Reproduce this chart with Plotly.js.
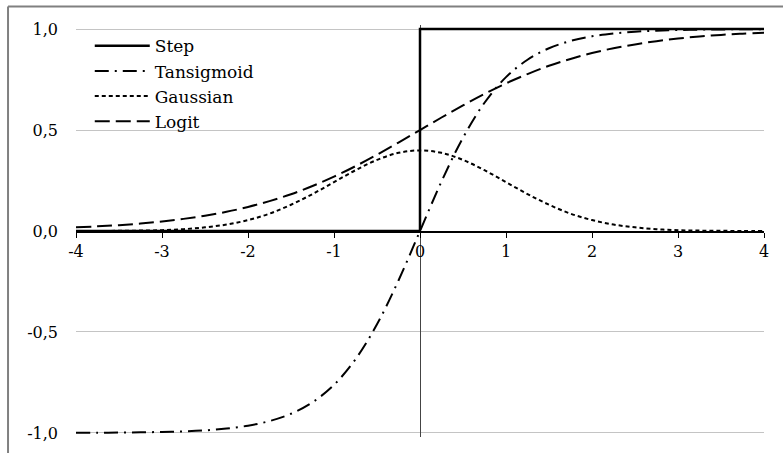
<!DOCTYPE html>
<html>
<head>
<meta charset="utf-8">
<script src="https://cdn.plot.ly/plotly-3.0.1.min.js"></script>
<style>html,body{margin:0;padding:0;background:#fff;}#chart{width:783px;height:453px;}</style>
</head>
<body>
<div id="chart"></div>
<script>
// x grid shared by the smooth curves
const xs = [-4,-3.75,-3.5,-3.25,-3,-2.75,-2.5,-2.25,-2,-1.75,-1.5,-1.25,-1,-0.75,-0.5,-0.25,0,
            0.25,0.5,0.75,1,1.25,1.5,1.75,2,2.25,2.5,2.75,3,3.25,3.5,3.75,4];

// Step function
const stepX = [-4, 0, 0, 4];
const stepY = [0, 0, 1, 1];

// Tansigmoid values
const tansig = [-0.999,-0.999,-0.998,-0.997,-0.995,-0.992,-0.987,-0.978,-0.964,-0.941,-0.905,-0.848,-0.762,-0.635,-0.462,-0.245,0,
                0.245,0.462,0.635,0.762,0.848,0.905,0.941,0.964,0.978,0.987,0.992,0.995,0.997,0.998,0.999,0.999];

// Gaussian values
const gauss = [0.000,0.000,0.001,0.002,0.004,0.009,0.018,0.032,0.054,0.086,0.130,0.183,0.242,0.301,0.352,0.387,0.399,
               0.387,0.352,0.301,0.242,0.183,0.130,0.086,0.054,0.032,0.018,0.009,0.004,0.002,0.001,0.000,0.000];

// Logit values
const logit = [0.018,0.023,0.029,0.037,0.047,0.060,0.076,0.095,0.119,0.148,0.182,0.223,0.269,0.321,0.378,0.438,0.500,
               0.562,0.622,0.679,0.731,0.777,0.818,0.852,0.881,0.905,0.924,0.940,0.953,0.963,0.971,0.977,0.982];

const seriesNames = ['Step', 'Tansigmoid', 'Gaussian', 'Logit'];

const xTickVals = [-4,-3,-2,-1,0,1,2,3,4];
const xTickText = ['-4','-3','-2','-1','0','1','2','3','4'];
const yTickVals = [-1,-0.5,0,0.5,1];
const yTickText = ['-1,0','-0,5','0,0','0,5','1,0'];

const FONT = 'DejaVu Serif';

const traces = [
  {x: stepX, y: stepY, name: seriesNames[0], mode: 'lines', line: {color: '#000', width: 2.5}},
  {x: xs, y: tansig, name: seriesNames[1], mode: 'lines', line: {color: '#000', width: 2, dash: '14px,6px,2px,6px', shape: 'spline'}},
  {x: xs, y: gauss, name: seriesNames[2], mode: 'lines', line: {color: '#000', width: 2, dash: '4px,3px', shape: 'spline'}},
  {x: xs, y: logit, name: seriesNames[3], mode: 'lines', line: {color: '#000', width: 2, dash: '15px,6px', shape: 'spline'}}
];

// plot area: y = 1 at 29px, y = -1 at 433px; range padded by 0.02 so lines at +-1 are not clipped
const layout = {
  width: 783, height: 453,
  margin: {l: 76, r: 19, t: 25, b: 16},
  paper_bgcolor: '#fff', plot_bgcolor: '#fff',
  font: {family: FONT, size: 16, color: '#000'},
  showlegend: true,
  legend: {x: 0.02, y: 0.992, xanchor: 'left', yanchor: 'top', bgcolor: 'rgba(0,0,0,0)',
           font: {family: FONT, size: 17, color: '#000'}, tracegroupgap: 0, itemwidth: 55},
  xaxis: {
    range: [-4, 4], anchor: 'free', position: 0.5,
    tickvals: xTickVals, ticktext: xTickText,
    showline: true, linecolor: '#000', linewidth: 1.5,
    ticks: 'outside', ticklen: 5, tickcolor: '#000', tickwidth: 1,
    showgrid: false,
    zeroline: true, zerolinecolor: '#444', zerolinewidth: 1,
    tickfont: {family: FONT, size: 16, color: '#000'},
    fixedrange: true
  },
  yaxis: {
    range: [-1.02, 1.02],
    tickvals: yTickVals, ticktext: yTickText,
    showline: false, ticks: '', ticklabelstandoff: 17,
    showgrid: true, gridcolor: '#c4c4c4', gridwidth: 1,
    zeroline: false,
    tickfont: {family: FONT, size: 16, color: '#000'},
    fixedrange: true
  },
  yaxis2: {
    range: [-1.02, 1.02], overlaying: 'y', anchor: 'free', position: 0.5, side: 'left',
    tickvals: [-1, -0.5], ticks: 'inside', ticklen: 5, tickcolor: '#444',
    showticklabels: false, showgrid: false, zeroline: false, showline: false,
    fixedrange: true
  },
  shapes: [
    {type: 'line', xref: 'paper', yref: 'paper', x0: -0.0988, x1: 1.05, y0: 1.045, y1: 1.045,
     line: {color: '#808080', width: 2}},
    {type: 'line', xref: 'paper', yref: 'paper', x0: -0.0988, x1: -0.0988, y0: 1.045, y1: -0.06,
     line: {color: '#808080', width: 2}}
  ]
};

Plotly.newPlot('chart', traces, layout, {staticPlot: true, displayModeBar: false});
</script>
</body>
</html>
